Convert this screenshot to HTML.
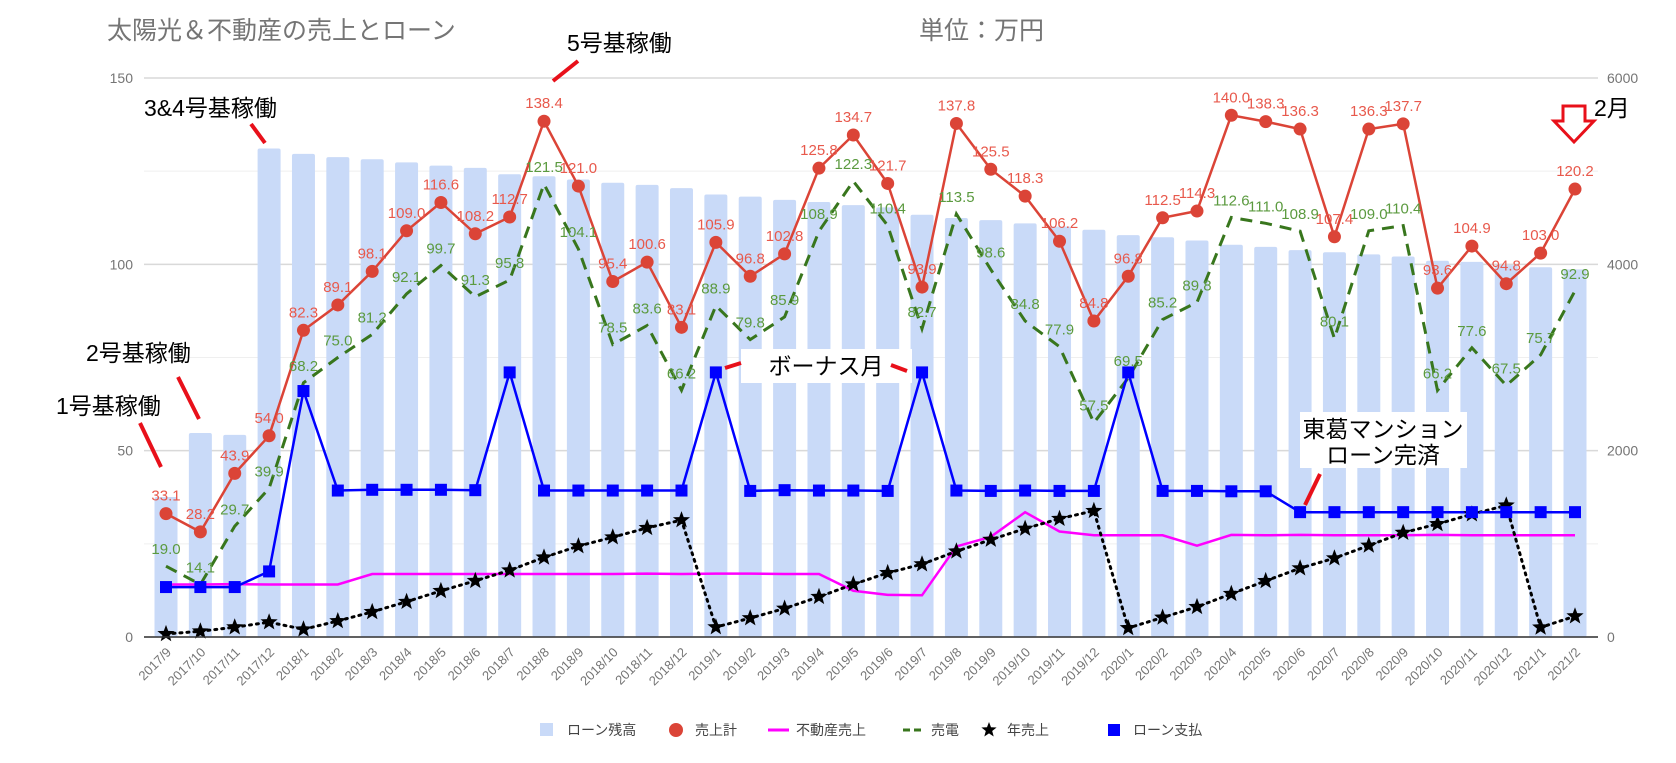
<!DOCTYPE html>
<html><head><meta charset="utf-8"><style>
body{margin:0;background:#fff;}
svg{display:block;font-family:"Liberation Sans","Noto Sans CJK JP",sans-serif;}
</style></head><body>
<svg id="chart" width="1676" height="763" viewBox="0 0 1676 763">
<text x="107" y="39" font-size="25" fill="#757575">太陽光＆不動産の売上とローン</text>
<text x="919" y="39" font-size="25" fill="#757575">単位：万円</text>
<g id="grid"></g>
<g id="bars"></g>
<g id="lines"></g>
<g id="labels"></g>
<g id="axes"></g>
<g font-size="23" fill="#000">
  <text x="56" y="414">1号基稼働</text>
  <line x1="140" y1="423" x2="161" y2="467" stroke="#e8101a" stroke-width="4"/>
  <text x="86" y="361">2号基稼働</text>
  <line x1="178" y1="377" x2="199" y2="419" stroke="#e8101a" stroke-width="4"/>
  <text x="144" y="116">3&amp;4号基稼働</text>
  <line x1="251" y1="124" x2="265" y2="143" stroke="#e8101a" stroke-width="4"/>
  <text x="567" y="51">5号基稼働</text>
  <line x1="553" y1="81" x2="578" y2="61" stroke="#e8101a" stroke-width="4"/>
  <rect x="741" y="349" width="171" height="34" fill="#fff"/>
  <text x="826" y="374" text-anchor="middle">ボーナス月</text>
  <line x1="725" y1="368" x2="741" y2="363" stroke="#e8101a" stroke-width="4"/>
  <line x1="891" y1="365" x2="907" y2="371" stroke="#e8101a" stroke-width="4"/>
  <rect x="1300" y="412" width="167" height="56" fill="#fff"/>
  <text x="1383" y="437" text-anchor="middle">東葛マンション</text>
  <text x="1383" y="463" text-anchor="middle">ローン完済</text>
  <line x1="1320" y1="474" x2="1305" y2="505" stroke="#e8101a" stroke-width="4"/>
  <path d="M1563 106 L1585 106 L1585 121 L1594 121 L1574 142 L1554 121 L1563 121 Z" fill="#fff" stroke="#e8101a" stroke-width="3"/>
  <text x="1594" y="116">2月</text>
</g>
<g id="legend" font-size="14" fill="#444"></g>
</svg>
<script>
const categories=["2017/9","2017/10","2017/11","2017/12","2018/1","2018/2","2018/3","2018/4","2018/5","2018/6","2018/7","2018/8","2018/9","2018/10","2018/11","2018/12","2019/1","2019/2","2019/3","2019/4","2019/5","2019/6","2019/7","2019/8","2019/9","2019/10","2019/11","2019/12","2020/1","2020/2","2020/3","2020/4","2020/5","2020/6","2020/7","2020/8","2020/9","2020/10","2020/11","2020/12","2021/1","2021/2"];
const totalSales=[33.1,28.2,43.9,54.0,82.3,89.1,98.1,109.0,116.6,108.2,112.7,138.4,121.0,95.4,100.6,83.1,105.9,96.8,102.8,125.8,134.7,121.7,93.9,137.8,125.5,118.3,106.2,84.8,96.8,112.5,114.3,140.0,138.3,136.3,107.4,136.3,137.7,93.6,104.9,94.8,103.0,120.2];
const powerSales=[19.0,14.1,29.7,39.9,68.2,75.0,81.2,92.1,99.7,91.3,95.8,121.5,104.1,78.5,83.6,66.2,88.9,79.8,85.9,108.9,122.3,110.4,82.7,113.5,98.6,84.8,77.9,57.5,69.5,85.2,89.8,112.6,111.0,108.9,80.1,109.0,110.4,66.2,77.6,67.5,75.7,92.9];
const realEstateSales=[14.1,14.1,14.2,14.1,14.1,14.1,16.9,16.9,16.9,16.9,16.9,16.9,16.9,16.9,17.0,16.9,17.0,17.0,16.9,16.9,12.4,11.3,11.2,24.3,26.9,33.5,28.3,27.3,27.3,27.3,24.5,27.4,27.3,27.4,27.3,27.3,27.3,27.4,27.3,27.3,27.3,27.3];
const loanPayment=[13.4,13.4,13.4,17.6,66,39.3,39.5,39.5,39.5,39.4,71,39.3,39.3,39.3,39.3,39.3,71,39.2,39.4,39.3,39.3,39.2,71,39.3,39.2,39.3,39.2,39.2,71,39.2,39.2,39.1,39.1,33.5,33.5,33.5,33.5,33.5,33.5,33.5,33.5,33.5];
const annualSales=[33.1,61.3,105.2,159.2,82.3,171.4,269.5,378.5,495.1,603.3,716.0,854.4,975.4,1070.8,1171.4,1254.5,105.9,202.7,305.5,431.3,566.0,687.7,781.6,919.4,1044.9,1163.2,1269.4,1354.2,96.8,209.3,323.6,463.6,601.9,738.2,845.6,981.9,1119.6,1213.2,1318.1,1412.9,103.0,223.2];
const loanBalance=[1503,2190,2170,5243,5185,5151,5128,5094,5059,5036,4967,4945,4910,4876,4853,4818,4750,4727,4692,4669,4635,4612,4532,4497,4474,4440,4405,4371,4314,4291,4256,4210,4187,4153,4130,4107,4084,4038,4027,3992,3969,3946];
const leftTicks=[0,50,100,150];
const rightTicks=[0,2000,4000,6000];

const NS="http://www.w3.org/2000/svg";
const X0=166,DX=(1575-166)/41,Y0=637,PL=559/150,PR=559/6000;
const xs=i=>X0+i*DX, yl=v=>Y0-v*PL, yr=v=>Y0-v*PR;
function mk(tag,attrs,parent,txt){const e=document.createElementNS(NS,tag);for(const k in attrs)e.setAttribute(k,attrs[k]);if(txt!==undefined)e.textContent=txt;parent.appendChild(e);return e;}
const G=id=>document.getElementById(id);
// grid
for(let v=0;v<=150;v+=25){
  const l=mk('line',{x1:144,x2:1598,y1:yl(v),y2:yl(v),stroke:v%50===0?'#d9d9d9':'#efefef','stroke-width':v%50===0?1.5:1},G('grid'));
  
  
}
leftTicks.forEach(v=>{const t=mk('text',{x:133,y:yl(v)+5,'text-anchor':'end','font-size':14,fill:'#757575'},G('axes'),String(v));
  
  });
rightTicks.forEach(v=>{const t=mk('text',{x:1607,y:yr(v)+5,'font-size':14,fill:'#757575'},G('axes'),String(v));
  
  });
const base=mk('line',{x1:144,x2:1598,y1:Y0,y2:Y0,stroke:'#333','stroke-width':1.5},G('axes'));


categories.forEach((c,i)=>{const t=mk('text',{x:0,y:0,'text-anchor':'end','font-size':13,fill:'#757575',transform:`translate(${xs(i)+6},${Y0+16}) rotate(-45)`},G('axes'),c);
  
  });
// bars
loanBalance.forEach((v,i)=>{const r=mk('rect',{x:xs(i)-11.5,y:yr(v),width:23,height:Y0-yr(v),fill:'#c9daf8',rx:2},G('bars'));
  
  });
function path(arr,f){return arr.map((v,i)=>(i?'L':'M')+xs(i).toFixed(1)+' '+f(v).toFixed(1)).join(' ');}
const L=G('lines');
let p;
p=mk('path',{d:path(realEstateSales,yl),fill:'none',stroke:'#ff00ff','stroke-width':2.5},L);


p=mk('path',{d:path(powerSales,yl),fill:'none',stroke:'#38761d','stroke-width':3,'stroke-dasharray':'12 8'},L);


p=mk('path',{d:path(annualSales,yr),fill:'none',stroke:'#000','stroke-width':3,'stroke-dasharray':'2 5','stroke-linecap':'round'},L);


p=mk('path',{d:path(loanPayment,yl),fill:'none',stroke:'#0000ff','stroke-width':2.5},L);


p=mk('path',{d:path(totalSales,yl),fill:'none',stroke:'#db4437','stroke-width':2.5},L);


function star(cx,cy,R){let d='';for(let k=0;k<10;k++){const r=k%2?R*0.42:R;const a=-Math.PI/2+k*Math.PI/5;d+=(k?'L':'M')+(cx+r*Math.cos(a)).toFixed(1)+' '+(cy+r*Math.sin(a)).toFixed(1);}return d+'Z';}
annualSales.forEach((v,i)=>{const s=mk('path',{d:star(xs(i),yr(v),9),fill:'#000'},L);
  
  });
loanPayment.forEach((v,i)=>{const s=mk('rect',{x:xs(i)-6,y:yl(v)-6,width:12,height:12,fill:'#0000ff'},L);
  
  });
totalSales.forEach((v,i)=>{const s=mk('circle',{cx:xs(i),cy:yl(v),r:6.5,fill:'#db4437'},L);
  
  });
powerSales.forEach((v,i)=>{const t=mk('text',{x:xs(i),y:yl(v)-12,'text-anchor':'middle','font-size':15,fill:'#5b9a3f'},G('labels'),v.toFixed(1));
  
  });
totalSales.forEach((v,i)=>{const t=mk('text',{x:xs(i),y:yl(v)-13,'text-anchor':'middle','font-size':15,fill:'#e8594c'},G('labels'),v.toFixed(1));
  
  });
// legend
const LG=G('legend'),ly=730;
let e;
e=mk('rect',{x:540,y:ly-7,width:13,height:13,fill:'#c9daf8'},LG);
e=mk('text',{x:567,y:ly+5},LG,'ローン残高');
e=mk('circle',{cx:676,cy:ly,r:7,fill:'#db4437'},LG);
e=mk('text',{x:695,y:ly+5},LG,'売上計');
e=mk('line',{x1:768,x2:789,y1:ly,y2:ly,stroke:'#ff00ff','stroke-width':3},LG);
e=mk('text',{x:796,y:ly+5},LG,'不動産売上');
e=mk('line',{x1:903,x2:925,y1:ly,y2:ly,stroke:'#38761d','stroke-width':3,'stroke-dasharray':'7 4'},LG);
e=mk('text',{x:931,y:ly+5},LG,'売電');
e=mk('path',{d:star(989,ly,8),fill:'#000'},LG);
e=mk('text',{x:1007,y:ly+5},LG,'年売上');
e=mk('rect',{x:1108,y:ly-6,width:12,height:12,fill:'#0000ff'},LG);
e=mk('text',{x:1133,y:ly+5},LG,'ローン支払');
</script>
</body></html>
